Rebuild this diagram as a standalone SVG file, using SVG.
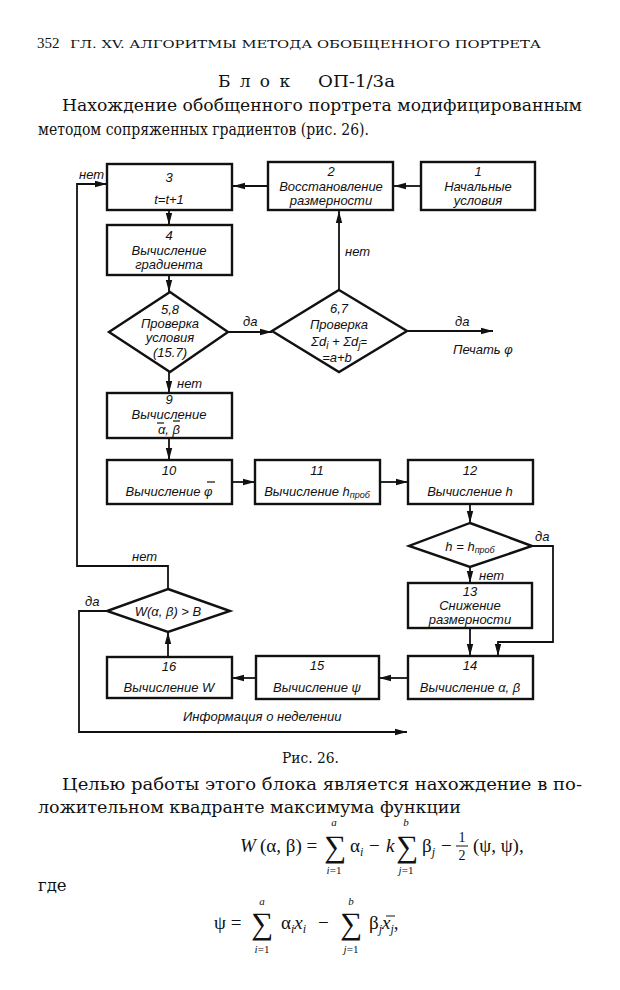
<svg xmlns="http://www.w3.org/2000/svg" width="620" height="990" viewBox="0 0 620 990">
<defs>
<marker id="ah" markerUnits="userSpaceOnUse" markerWidth="13" markerHeight="8" refX="12" refY="4" orient="auto">
<path d="M0,0.8 L12,4 L0,7.2 z" fill="#111"/>
</marker>
<style>
.bx{fill:none;stroke:#111;stroke-width:2.4}
.cn{fill:none;stroke:#111;stroke-width:1.7}
.ln{fill:none;stroke:#111;stroke-width:1.8;marker-end:url(#ah)}
.fl{font-family:"Liberation Sans","DejaVu Sans",sans-serif;font-style:italic;font-size:13px;fill:#111;text-anchor:middle}
.lb{font-family:"Liberation Sans","DejaVu Sans",sans-serif;font-style:italic;font-size:13px;fill:#111}
.sr{font-family:"Liberation Serif","DejaVu Serif",serif;fill:#111}
.cy{font-family:"DejaVu Serif","Liberation Serif",serif;fill:#111}
.sm{font-family:"Liberation Serif","DejaVu Serif",serif;fill:#111;font-size:11px;text-anchor:middle}
</style>
</defs>
<rect width="620" height="990" fill="#fff"/>

<g id="page-text">
<text class="sr" x="37" y="48" font-size="15">352</text>
<text class="cy" x="70" y="48" font-size="11" textLength="471" lengthAdjust="spacingAndGlyphs">ГЛ. XV. АЛГОРИТМЫ МЕТОДА ОБОБЩЕННОГО ПОРТРЕТА</text>
<text class="cy" x="218" y="87" font-size="17" textLength="72" lengthAdjust="spacing">Блок</text>
<text class="cy" x="318" y="87" font-size="17" textLength="77" lengthAdjust="spacingAndGlyphs">ОП-1/3а</text>
<text class="cy" x="62" y="111" font-size="16.5" textLength="520" lengthAdjust="spacingAndGlyphs">Нахождение обобщенного портрета модифицированным</text>
<text class="cy" x="38" y="135" font-size="16.5" textLength="331" lengthAdjust="spacingAndGlyphs">методом сопряженных градиентов (рис. 26).</text>
<text class="cy" x="282" y="763" font-size="14" textLength="57" lengthAdjust="spacingAndGlyphs">Рис. 26.</text>
<text class="cy" x="62" y="790" font-size="16.5" textLength="520" lengthAdjust="spacingAndGlyphs">Целью работы этого блока является нахождение в по-</text>
<text class="cy" x="38" y="813" font-size="16.5" textLength="423" lengthAdjust="spacingAndGlyphs">ложительном квадранте максимума функции</text>
<text class="cy" x="38" y="891" font-size="16.5">где</text>
</g>

<g id="formula-W">
<text class="sr" x="240" y="852" font-size="19" font-style="italic">W</text>
<text class="sr" x="260" y="852" font-size="19">(α, β) =</text>
<text class="sr" x="324" y="857" font-size="31">∑</text>
<text class="sm" x="334" y="826" font-style="italic">a</text>
<text class="sm" x="334" y="874"><tspan font-style="italic">i</tspan>=1</text>
<text class="sr" x="350" y="852" font-size="19">α<tspan font-size="12" dy="4" font-style="italic">i</tspan></text>
<text class="sr" x="369" y="852" font-size="19">−</text>
<text class="sr" x="386" y="852" font-size="19" font-style="italic">k</text>
<text class="sr" x="396" y="857" font-size="31">∑</text>
<text class="sm" x="406" y="826" font-style="italic">b</text>
<text class="sm" x="406" y="874"><tspan font-style="italic">j</tspan>=1</text>
<text class="sr" x="422" y="852" font-size="19">β<tspan font-size="12" dy="4" font-style="italic">j</tspan></text>
<text class="sr" x="441" y="852" font-size="19">−</text>
<text class="sr" x="462" y="842" font-size="14" text-anchor="middle">1</text>
<line x1="456" y1="846" x2="468" y2="846" stroke="#111" stroke-width="1"/>
<text class="sr" x="462" y="860" font-size="14" text-anchor="middle">2</text>
<text class="sr" x="473" y="852" font-size="19">(ψ, ψ),</text>
</g>

<g id="formula-psi">
<text class="sr" x="214" y="929" font-size="19">ψ =</text>
<text class="sr" x="251" y="934" font-size="31">∑</text>
<text class="sm" x="262" y="905" font-style="italic">a</text>
<text class="sm" x="262" y="953"><tspan font-style="italic">i</tspan>=1</text>
<text class="sr" x="281" y="929" font-size="19">α<tspan font-size="12" dy="4" font-style="italic">i</tspan><tspan dy="-4" font-style="italic">x</tspan><tspan font-size="12" dy="4" font-style="italic">i</tspan></text>
<text class="sr" x="318" y="929" font-size="19">−</text>
<text class="sr" x="340" y="934" font-size="31">∑</text>
<text class="sm" x="351" y="905" font-style="italic">b</text>
<text class="sm" x="351" y="953"><tspan font-style="italic">j</tspan>=1</text>
<text class="sr" x="369" y="929" font-size="19">β<tspan font-size="12" dy="4" font-style="italic">j</tspan><tspan dy="-4" font-style="italic">x</tspan><tspan font-size="12" dy="4" font-style="italic">j</tspan><tspan dy="-4">,</tspan></text>
<line x1="386" y1="916" x2="395" y2="916" stroke="#111" stroke-width="1"/>
</g>

<g id="connectors">
<line class="ln" x1="421" y1="186" x2="394" y2="186"/>
<line class="ln" x1="268" y1="186" x2="233" y2="186"/>
<line class="ln" x1="169" y1="210" x2="169" y2="225"/>
<line class="ln" x1="169" y1="275" x2="169" y2="292"/>
<line class="ln" x1="228" y1="332" x2="272" y2="332"/>
<line class="ln" x1="407" y1="331" x2="493" y2="331"/>
<line class="ln" x1="339" y1="290" x2="339" y2="211"/>
<line class="ln" x1="169" y1="372" x2="169" y2="393"/>
<line class="ln" x1="169" y1="438" x2="169" y2="460"/>
<line class="ln" x1="232" y1="482" x2="255" y2="482"/>
<line class="ln" x1="380" y1="482" x2="408" y2="482"/>
<line class="ln" x1="470" y1="504" x2="470" y2="523"/>
<line class="ln" x1="470" y1="567" x2="470" y2="583"/>
<polyline class="ln" points="532,546 553,546 553,642 498,642 498,656"/>
<line class="ln" x1="470" y1="628" x2="470" y2="656"/>
<line class="ln" x1="408" y1="678" x2="379" y2="678"/>
<line class="ln" x1="256" y1="678" x2="232" y2="678"/>
<line class="ln" x1="168" y1="657" x2="168" y2="632"/>
<polyline class="ln" points="168,589 168,566 77,566 77,184 107,184"/>
<polyline class="ln" points="107,611 79,611 79,732 407,732"/>
<text class="lb" x="79" y="179">нет</text>
<text class="lb" x="345" y="256">нет</text>
<text class="lb" x="243" y="326">да</text>
<text class="lb" x="455" y="326">да</text>
<text class="lb" x="453" y="354">Печать φ</text>
<text class="lb" x="177" y="388">нет</text>
<text class="lb" x="479" y="580">нет</text>
<text class="lb" x="535" y="541">да</text>
<text class="lb" x="132" y="561">нет</text>
<text class="lb" x="85" y="606">да</text>
<text class="lb" x="183" y="721">Информация о неделении</text>
</g>

<g id="n1">
<rect class="bx" x="421" y="162" width="114" height="48"/>
<text class="fl" x="478" y="176">1</text>
<text class="fl" x="478" y="191">Начальные</text>
<text class="fl" x="478" y="205">условия</text>
</g>
<g id="n2">
<rect class="bx" x="268" y="162" width="125" height="48"/>
<text class="fl" x="331" y="176">2</text>
<text class="fl" x="331" y="191">Восстановление</text>
<text class="fl" x="331" y="205">размерности</text>
</g>
<g id="n3">
<rect class="bx" x="107" y="164" width="125" height="46"/>
<text class="fl" x="169" y="182" font-size="14">3</text>
<text class="fl" x="169" y="204" font-size="14">t=t+1</text>
</g>
<g id="n4">
<rect class="bx" x="107" y="225" width="125" height="50"/>
<text class="fl" x="169" y="240" font-size="14">4</text>
<text class="fl" x="169" y="255">Вычисление</text>
<text class="fl" x="169" y="269">градиента</text>
</g>
<g id="n58">
<polygon class="bx" points="170,292 228,332 170,372 109,332"/>
<text class="fl" x="170" y="314">5,8</text>
<text class="fl" x="170" y="328">Проверка</text>
<text class="fl" x="170" y="342">условия</text>
<text class="fl" x="170" y="357">(15.7)</text>
</g>
<g id="n67">
<polygon class="bx" points="339,290 407,331 339,372 272,331"/>
<text class="fl" x="339" y="313">6,7</text>
<text class="fl" x="339" y="329">Проверка</text>
<text class="fl" x="339" y="346" font-size="14">Σd<tspan font-size="10" dy="3">i</tspan><tspan dy="-3"> + Σd</tspan><tspan font-size="10" dy="3">j</tspan><tspan dy="-3" font-size="11">=</tspan></text>
<text class="fl" x="337" y="362">=a+b</text>
</g>
<g id="n9">
<rect class="bx" x="107" y="393" width="125" height="45"/>
<text class="fl" x="169" y="404">9</text>
<text class="fl" x="169" y="419">Вычисление</text>
<text class="fl" x="169" y="434">α, β</text>
<line x1="157" y1="423" x2="164" y2="423" stroke="#111" stroke-width="1.2"/>
<line x1="173" y1="421" x2="180" y2="421" stroke="#111" stroke-width="1.2"/>
</g>
<g id="n10">
<rect class="bx" x="107" y="460" width="125" height="44"/>
<text class="fl" x="169" y="475">10</text>
<text class="fl" x="169" y="496">Вычисление  φ</text>
<line x1="207" y1="482" x2="215" y2="482" stroke="#111" stroke-width="1.2"/>
</g>
<g id="n11">
<rect class="bx" x="255" y="460" width="125" height="44"/>
<text class="fl" x="317" y="475">11</text>
<text class="fl" x="317" y="496">Вычисление  h<tspan font-size="9" dy="2">проб</tspan></text>
</g>
<g id="n12">
<rect class="bx" x="408" y="460" width="125" height="44"/>
<text class="fl" x="470" y="475">12</text>
<text class="fl" x="470" y="496">Вычисление  h</text>
</g>
<g id="nh">
<polygon class="bx" points="470,523 532,546 470,567 409,546"/>
<text class="fl" x="470" y="551">h = h<tspan font-size="9" dy="2">проб</tspan></text>
</g>
<g id="n13">
<rect class="bx" x="408" y="583" width="124" height="45"/>
<text class="fl" x="470" y="596">13</text>
<text class="fl" x="470" y="610">Снижение</text>
<text class="fl" x="470" y="624">размерности</text>
</g>
<g id="n14">
<rect class="bx" x="408" y="656" width="125" height="43"/>
<text class="fl" x="470" y="670">14</text>
<text class="fl" x="470" y="692">Вычисление α, β</text>
</g>
<g id="n15">
<rect class="bx" x="256" y="656" width="123" height="43"/>
<text class="fl" x="317" y="670">15</text>
<text class="fl" x="317" y="692">Вычисление  ψ</text>
</g>
<g id="n16">
<rect class="bx" x="107" y="657" width="125" height="41"/>
<text class="fl" x="169" y="671">16</text>
<text class="fl" x="169" y="692">Вычисление  W</text>
</g>
<g id="nW">
<polygon class="bx" points="168,589 230,611 168,632 107,611"/>
<text class="fl" x="168" y="616" font-size="14">W(α, β) &gt; B</text>
</g>
</svg>
